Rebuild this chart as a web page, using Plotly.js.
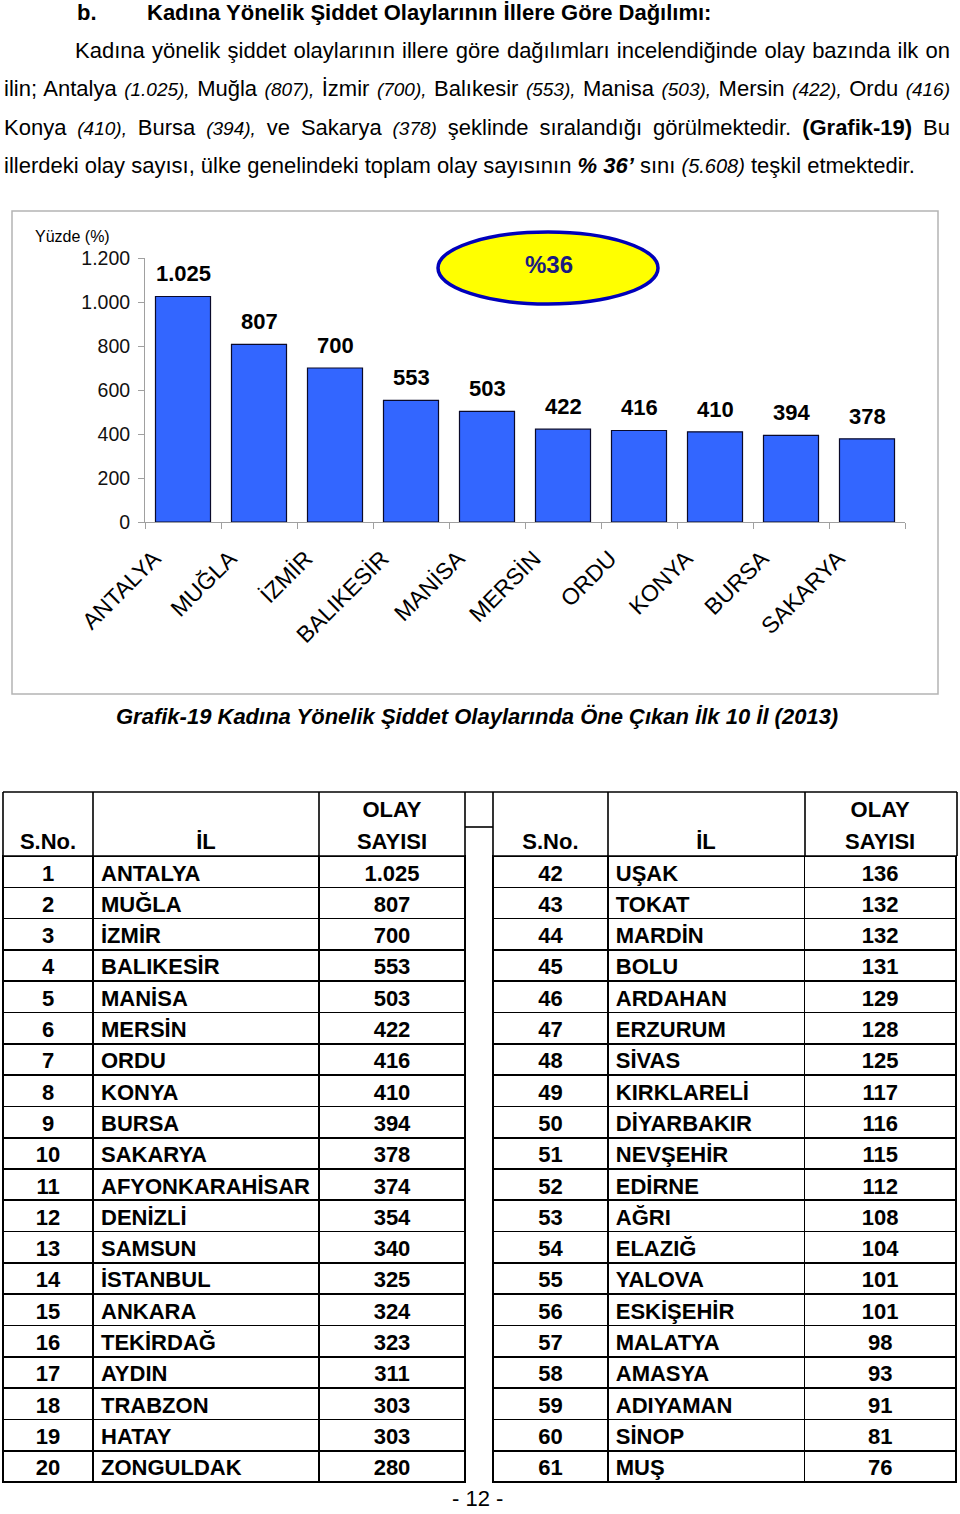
<!DOCTYPE html>
<html><head><meta charset="utf-8">
<script src="https://cdn.plot.ly/plotly-3.0.1.min.js"></script>
<style>
html,body{margin:0;padding:0;background:#fff;}
#page{position:relative;width:960px;height:1514px;overflow:hidden;background:#fff;}
#chart{position:absolute;left:0;top:0;width:960px;height:1514px;}
.ln{position:absolute;font-family:'Liberation Sans',Arial,sans-serif;font-size:22px;line-height:38px;white-space:nowrap;color:#000;z-index:5;}
.j{text-align:justify;text-align-last:justify;white-space:normal;}
.ln i{font-size:19px;}
</style></head>
<body>
<div id="page">
<div id="chart"></div>
<div class="ln" style="left:77px;top:-6px;font-weight:bold;">b.</div>
<div class="ln" style="left:147px;top:-6px;font-weight:bold;">Kadına Yönelik Şiddet Olaylarının İllere Göre Dağılımı:</div>
<div class="ln j" style="left:75px;top:32px;width:875px;">Kadına yönelik şiddet olaylarının illere göre dağılımları incelendiğinde olay bazında ilk on</div>
<div class="ln j" style="left:4px;top:70px;width:946px;">ilin; Antalya <i>(1.025),</i> Muğla <i>(807),</i> İzmir <i>(700),</i> Balıkesir <i>(553),</i> Manisa <i>(503),</i> Mersin <i>(422),</i> Ordu <i>(416)</i></div>
<div class="ln j" style="left:4px;top:109px;width:946px;">Konya <i>(410),</i> Bursa <i>(394),</i> ve Sakarya <i>(378)</i> şeklinde sıralandığı görülmektedir. <b>(Grafik-19)</b> Bu</div>
<div class="ln" style="left:4px;top:147px;">illerdeki olay sayısı, ülke genelindeki toplam olay sayısının <b><i style="font-size:22px">% 36’</i></b> sını <i style="font-size:20px">(5.608)</i> teşkil etmektedir.</div>
</div>
<script>
// ---- data ----
const chartCategories = ['ANTALYA','MUĞLA','İZMİR','BALIKESİR','MANİSA','MERSİN','ORDU','KONYA','BURSA','SAKARYA'];
const chartValues = [1025, 807, 700, 553, 503, 422, 416, 410, 394, 378];
const yTickValues = [0, 200, 400, 600, 800, 1000, 1200];
const shareLabel = '%36';
const yAxisLabel = 'Yüzde (%)';
const captionText = 'Grafik-19 Kadına Yönelik Şiddet Olaylarında Öne Çıkan İlk 10 İl (2013)';
const pageNumber = '- 12 -';

const headerTop = ['', '', 'OLAY'];
const headerBottom = ['S.No.', 'İL', 'SAYISI'];
const leftNo = [1,2,3,4,5,6,7,8,9,10,11,12,13,14,15,16,17,18,19,20];
const leftCity = ['ANTALYA','MUĞLA','İZMİR','BALIKESİR','MANİSA','MERSİN','ORDU','KONYA','BURSA','SAKARYA',
  'AFYONKARAHİSAR','DENİZLİ','SAMSUN','İSTANBUL','ANKARA','TEKİRDAĞ','AYDIN','TRABZON','HATAY','ZONGULDAK'];
const leftCount = [1025,807,700,553,503,422,416,410,394,378,374,354,340,325,324,323,311,303,303,280];
const rightNo = [42,43,44,45,46,47,48,49,50,51,52,53,54,55,56,57,58,59,60,61];
const rightCity = ['UŞAK','TOKAT','MARDİN','BOLU','ARDAHAN','ERZURUM','SİVAS','KIRKLARELİ','DİYARBAKIR','NEVŞEHİR',
  'EDİRNE','AĞRI','ELAZIĞ','YALOVA','ESKİŞEHİR','MALATYA','AMASYA','ADIYAMAN','SİNOP','MUŞ'];
const rightCount = [136,132,132,131,129,128,125,117,116,115,112,108,104,101,101,98,93,91,81,76];

// ---- helpers / layout constants ----
const W = 960, H = 1514;
const F = 'Liberation Sans, Arial, sans-serif';
const px = v => v / W;
const py = v => 1 - v / H;
const trNum = v => String(v).replace(/\B(?=(\d{3})+(?!\d))/g, '.');

const headerRowH = 32, rowH = 31.3;
const tblTop = 792;
const headBottom = tblTop + 2 * headerRowH;
const tblBottom = headBottom + rowH * 20;
const leftCols = [3, 93, 319, 465];
const rightCols = [493, 608, 805, 957];
const LW = 1.6;

function widths(cols) { return cols.slice(1).map((c, i) => c - cols[i]); }

function tableTrace(cols, nos, cities, counts) {
  return {
    type: 'table',
    domain: {x: [px(cols[0]), px(cols[3])], y: [py(tblBottom + 10), py(tblTop)]},
    columnwidth: widths(cols),
    header: {
      values: [[headerTop[0], headerBottom[0]], [headerTop[1], headerBottom[1]], [headerTop[2], headerBottom[2]]],
      align: 'center', height: headerRowH,
      font: {family: F, size: 22, color: '#000', weight: 'bold'},
      line: {color: 'rgba(0,0,0,0)', width: 0}, fill: {color: '#fff'}
    },
    cells: {
      values: [nos, cities, counts.map(trNum)],
      align: ['center', 'left', 'center'], height: rowH,
      font: {family: F, size: 22, color: '#000', weight: 'bold'},
      line: {color: '#000', width: LW}, fill: {color: '#fff'}
    }
  };
}

const bar = {
  type: 'bar', x: chartCategories, y: chartValues,
  marker: {color: '#3366ff', line: {color: '#0a0a2a', width: 1.2}},
  hoverinfo: 'x+y', showlegend: false
};

const annotations = chartCategories.map((c, i) => ({
  x: c, y: chartValues[i], xref: 'x', yref: 'y', text: trNum(chartValues[i]),
  showarrow: false, yanchor: 'bottom', yshift: 8,
  font: {family: F, size: 22, color: '#000', weight: 'bold'}
}));
annotations.push(
  {xref: 'paper', yref: 'paper', x: px(33), y: py(236), xanchor: 'left', yanchor: 'middle',
   text: yAxisLabel, showarrow: false, font: {family: F, size: 16, color: '#000'}},
  {xref: 'paper', yref: 'paper', x: px(549), y: py(264), xanchor: 'center', yanchor: 'middle',
   text: '<b>' + shareLabel + '</b>', showarrow: false, font: {family: F, size: 24, color: '#1a1a80'}},
  {xref: 'paper', yref: 'paper', x: px(477), y: py(716), xanchor: 'center', yanchor: 'middle',
   text: '<b><i>' + captionText + '</i></b>', showarrow: false, font: {family: F, size: 22, color: '#000'}},
  {xref: 'paper', yref: 'paper', x: px(477), y: 0, xanchor: 'center', yanchor: 'bottom', yshift: 1,
   text: pageNumber, showarrow: false, font: {family: F, size: 22, color: '#000'}}
);

function hline(x0, x1, y) {
  return {type: 'line', xref: 'paper', yref: 'paper', x0: px(x0), x1: px(x1), y0: py(y), y1: py(y),
          line: {color: '#000', width: LW}, layer: 'above'};
}
function vline(x, y0, y1) {
  return {type: 'line', xref: 'paper', yref: 'paper', x0: px(x), x1: px(x), y0: py(y0), y1: py(y1),
          line: {color: '#000', width: LW}, layer: 'above'};
}

const shapes = [
  {type: 'rect', xref: 'paper', yref: 'paper', x0: px(12), x1: px(938), y0: py(694), y1: py(211),
   line: {color: '#b4b4b4', width: 1.5}, layer: 'below'},
  {type: 'circle', xref: 'paper', yref: 'paper', x0: px(438), x1: px(658), y0: py(304), y1: py(232),
   fillcolor: '#ffff00', line: {color: '#0000bb', width: 3.5}, layer: 'below'},
  // header frame
  hline(leftCols[0], rightCols[3], tblTop),
  hline(leftCols[0], leftCols[3], headBottom),
  hline(rightCols[0], rightCols[3], headBottom),
  hline(leftCols[3], rightCols[0], tblTop + 35)
];
leftCols.concat(rightCols).forEach(x => shapes.push(vline(x, tblTop, headBottom)));

const layout = {
  width: W, height: H, margin: {l: 0, r: 0, t: 0, b: 0},
  paper_bgcolor: 'rgba(0,0,0,0)', plot_bgcolor: 'rgba(0,0,0,0)',
  font: {family: F, color: '#000'},
  separators: ',.',
  bargap: 0.276, showlegend: false,
  xaxis: {
    domain: [px(145), px(905)], type: 'category', tickson: 'boundaries',
    ticks: 'outside', ticklen: 6, tickcolor: '#a0a0a0', showline: true, linecolor: '#a0a0a0', linewidth: 1,
    tickangle: -45, tickfont: {family: F, size: 23, color: '#000'},
    ticklabelstandoff: 13, ticklabelshift: -29, showgrid: false, zeroline: false, fixedrange: true
  },
  yaxis: {
    domain: [py(522), py(258)], range: [0, 1200], tickvals: yTickValues, tickformat: ',d',
    ticks: 'outside', ticklen: 6, tickcolor: '#a0a0a0', showline: true, linecolor: '#a0a0a0', linewidth: 1,
    tickfont: {family: F, size: 19.5, color: '#111'}, ticklabelstandoff: 4,
    showgrid: false, zeroline: false, fixedrange: true
  },
  annotations: annotations,
  shapes: shapes
};

const traces = [
  bar,
  tableTrace(leftCols, leftNo, leftCity, leftCount),
  tableTrace(rightCols, rightNo, rightCity, rightCount)
];

Plotly.newPlot('chart', traces, layout, {staticPlot: true, displayModeBar: false});
</script>
</body></html>
